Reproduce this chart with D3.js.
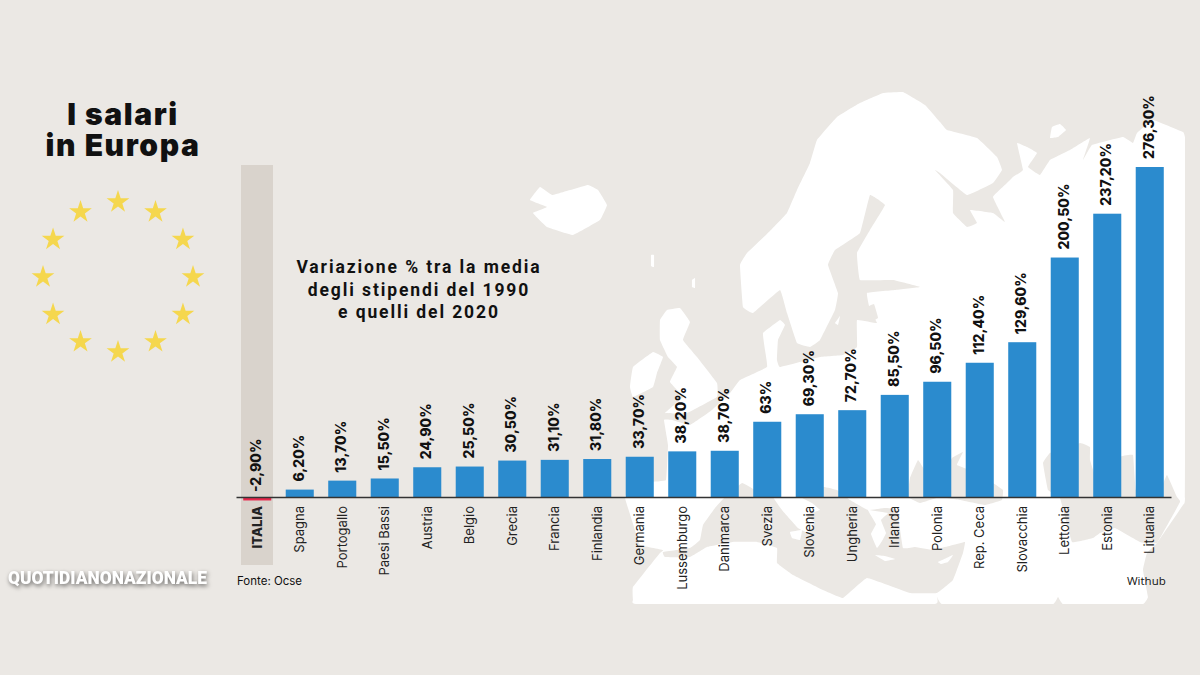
<!DOCTYPE html>
<html>
<head>
<meta charset="utf-8">
<script src="https://cdn.jsdelivr.net/npm/d3@7/dist/d3.min.js"></script>
<style>
  html, body { margin: 0; padding: 0; background: #ebe8e4; }
  svg { display: block; }
  text { font-family: Inter, sans-serif; fill: #111; }
  .tick text { font-size: 13px; fill: #222; }
</style>
</head>
<body>
<svg width="1200" height="675"></svg>
<script>
// data
var countries = ['ITALIA','Spagna','Portogallo','Paesi Bassi','Austria','Belgio','Grecia','Francia','Finlandia','Germania','Lussemburgo','Danimarca','Svezia','Slovenia','Ungheria','Irlanda','Polonia','Rep. Ceca','Slovacchia','Lettonia','Estonia','Lituania'];
var values = [-2.9,6.2,13.7,15.5,24.9,25.5,30.5,31.1,31.8,33.7,38.2,38.7,63,69.3,72.7,85.5,96.5,112.4,129.6,200.5,237.2,276.3];
var valueLabels = ['-2,90%','6,20%','13,70%','15,50%','24,90%','25,50%','30,50%','31,10%','31,80%','33,70%','38,20%','38,70%','63%','69,30%','72,70%','85,50%','96,50%','112,40%','129,60%','200,50%','237,20%','276,30%'];
var titleLines = ['I salari','in Europa'];
var subtitleLines = ['Variazione % tra la media','degli stipendi del 1990','e quelli del 2020'];

// background map, traced by hand
var landMain = [[743,307],[740,265],[747,253],[770,231],[787,213],[797,190],[810,163],[817,140],[837,117],[853,107],[860,103],[883,93],[903,92],[925,105],[940,122],[947,130],[977,138],[997,157],[1002,170],[993,183],[967,195],[940,173],[935,170],[953,190],[953,213],[967,227],[977,223],[970,210],[993,213],[1005,222],[993,197],[1007,183],[1013,177],[1023,170],[1017,143],[1027,147],[1037,153],[1028,167],[1040,175],[1050,160],[1070,150],[1090,138],[1083,160],[1092,145],[1123,137],[1133,143],[1137,133],[1153,120],[1183,132],[1185,137],[1185,140],[1185,300],[1185,498],[1183,505],[1157,543],[1147,553],[1143,570],[1148,597],[1143,604],[1100,604],[1063,604],[1058,597],[1053,604],[1000,604],[942,604],[937,597],[935,604],[800,604],[636,604],[633,600],[633,587],[660,553],[663,550],[640,545],[635,530],[625,498],[630,486],[650,482],[666,480],[668,445],[664,420],[672,420],[690,425],[712,410],[730,393],[740,380],[767,367],[765,350],[763,333],[780,320],[785,325],[778,340],[777,360],[780,367],[820,357],[843,355],[857,347],[857,320],[877,323],[870,310],[867,293],[895,290],[920,287],[893,280],[860,280],[857,253],[870,230],[885,205],[870,195],[860,233],[835,250],[828,265],[838,293],[835,310],[820,340],[810,347],[797,343],[787,313],[780,290],[753,313]];
var landIslands = [
  [[530,200],[540,187],[552,195],[560,193],[588,185],[598,190],[607,205],[600,220],[573,235],[547,227],[533,213],[547,207]], // islanda
  [[667,310],[680,308],[690,322],[683,340],[697,357],[717,383],[717,397],[687,413],[665,413],[683,397],[670,382],[677,367],[668,357],[660,340],[660,320]], // gb
  [[633,367],[653,352],[663,357],[657,373],[653,387],[633,397],[630,387]], // irlanda
  [[1050,138],[1052,127],[1060,124],[1066,130],[1058,137]],
  [[651,255],[654,255],[654,267],[651,266]],
  [[692,280],[695,278],[695,288],[692,287]],
  [[835,323],[840,316],[838,325]]
];
var seas = [
  // mediterraneo
  [[663,552],[690,548],[700,540],[703,525],[715,508],[725,497],[742,483],[755,490],[770,497],[800,500],[823,487],[837,490],[850,500],[868,510],[885,508],[897,510],[903,548],[915,547],[933,550],[953,545],[965,542],[963,553],[953,580],[937,593],[910,593],[867,578],[843,598],[823,590],[793,575],[777,563],[777,548],[757,542],[733,542],[707,547],[690,557],[665,557]],
  // mar nero
  [[908,497],[910,478],[918,460],[925,470],[945,470],[952,458],[963,452],[957,465],[975,472],[993,483],[1003,490],[1002,500],[985,505],[960,500],[940,497],[920,503]],
  // caspio e golfo
  [[1043,463],[1050,453],[1080,443],[1090,447],[1090,460],[1100,490],[1118,490],[1120,457],[1133,455],[1136,490],[1160,490],[1167,475],[1177,497],[1180,502],[1157,543],[1140,542],[1115,528],[1100,533],[1093,538],[1072,542],[1060,498],[1048,490]],
  // ladoga
  [[866,308],[874,304],[878,318],[870,322]]
];
var landOverSea = [
  [[765,485],[782,510],[798,528],[808,533],[815,522],[805,515],[820,510],[812,503],[800,497],[785,480]], // italia
  [[790,532],[802,530],[800,540],[792,538]],
  [[868,510],[876,524],[871,534],[877,548],[882,541],[886,533],[881,520],[888,513]], // grecia
  [[875,555],[885,556],[895,559],[885,561]],
  [[938,562],[953,555],[948,562],[941,564]],
  [[767,523],[772,522],[771,530],[767,530]]
];

var svg = d3.select('svg');
var bg = '#ebe8e4';
var outline = d3.line().curve(d3.curveCardinalClosed.tension(0.8));

// map
svg.append('path').attr('d', outline(landMain)).attr('fill', '#fff');
landIslands.forEach(function(p){
    svg.append('path').attr('d', outline(p)).attr('fill', '#fff');
});
seas.forEach(function(p){
    svg.append('path').attr('d', outline(p)).attr('fill', bg);
});
landOverSea.forEach(function(p){
    svg.append('path').attr('d', outline(p)).attr('fill', '#fff');
});

// scales
var ScaleX = d3.scaleBand().domain(countries).range([236, 1171]).paddingInner(0.34).paddingOuter(0.17);
var ScaleY = d3.scaleLinear().domain([0, 276.3]).range([497, 167]);

// band behind italy
svg.append('rect')
    .attr('x', 241).attr('y', 165)
    .attr('width', 32).attr('height', 400)
    .attr('fill', '#d9d3cc');

// bars
svg.selectAll('.bar')
    .data(values)
    .enter()
    .append('rect')
    .attr('class', 'bar')
    .attr('x', function(d,i){ return ScaleX(countries[i]); })
    .attr('y', function(d){ return ScaleY(Math.max(d, 0)); })
    .attr('width', ScaleX.bandwidth())
    .attr('height', function(d){ return Math.abs(ScaleY(d) - ScaleY(0)); })
    .attr('fill', function(d){ return d < 0 ? '#e8274b' : '#2b8bce'; });

// axis
var axis = svg.append('g')
    .attr('transform', 'translate(0,497)')
    .call(d3.axisBottom(ScaleX).tickSize(0).tickSizeOuter(0));
axis.select('.domain').attr('stroke', '#333').attr('stroke-width', 1.5);
axis.selectAll('.tick text')
    .attr('transform', 'rotate(-90)')
    .attr('text-anchor', 'end')
    .attr('x', -9)
    .attr('y', 0)
    .attr('dy', '0.35em')
    .style('font-family', 'Inter, sans-serif')
    .style('font-weight', function(d){ return d == 'ITALIA' ? 800 : 400; });

// value labels
svg.selectAll('.val')
    .data(values)
    .enter()
    .append('text')
    .attr('class', 'val')
    .attr('transform', function(d,i){
        var cx = ScaleX(countries[i]) + ScaleX.bandwidth() / 2 - 1;
        var cy = ScaleY(Math.max(d, 0)) - (d < 0 ? 5 : 8);
        return 'translate(' + cx + ',' + cy + ') rotate(-90)';
    })
    .attr('dy', '0.35em')
    .style('font-size', '14px')
    .style('font-weight', 800)
    .text(function(d,i){ return valueLabels[i]; });

// title
svg.selectAll('.title')
    .data(titleLines)
    .enter()
    .append('text')
    .attr('class', 'title')
    .attr('x', 123)
    .attr('y', function(d,i){ return 125 + i * 31; })
    .attr('text-anchor', 'middle')
    .style('font-size', '30px')
    .style('font-weight', 900)
    .style('letter-spacing', '1.6px')
    .text(function(d){ return d; });

// stars
d3.range(12).forEach(function(i){
    var a = i * Math.PI / 6;
    svg.append('path')
        .attr('d', d3.symbol(d3.symbolStar, 160)())
        .attr('transform', 'translate(' + (118 + 75 * Math.sin(a)) + ',' + (277 - 75 * Math.cos(a)) + ')')
        .attr('fill', '#f5d74e');
});

// subtitle
svg.selectAll('.sub')
    .data(subtitleLines)
    .enter()
    .append('text')
    .attr('class', 'sub')
    .attr('x', 419)
    .attr('y', function(d,i){ return 273 + i * 22.5; })
    .attr('text-anchor', 'middle')
    .style('font-family', 'Roboto, sans-serif')
    .style('font-size', '17.5px')
    .style('font-weight', 700)
    .style('letter-spacing', '1.9px')
    .text(function(d){ return d; });

// sources
svg.append('text').attr('x', 237).attr('y', 585)
    .style('font-size', '11.5px').text('Fonte: Ocse');
svg.append('text').attr('x', 1127).attr('y', 585)
    .style('font-family', 'Open Sans, sans-serif')
    .style('font-size', '11.5px').text('Withub');

// logo
svg.append('text').attr('x', 8).attr('y', 584)
    .attr('textLength', 199)
    .attr('lengthAdjust', 'spacingAndGlyphs')
    .style('font-family', 'Roboto, sans-serif')
    .style('font-size', '18px')
    .style('font-weight', 900)
    .style('fill', '#fff')
    .style('filter', 'drop-shadow(1px 2px 2px rgba(0,0,0,0.55))')
    .text('QUOTIDIANONAZIONALE');
</script>
</body>
</html>
